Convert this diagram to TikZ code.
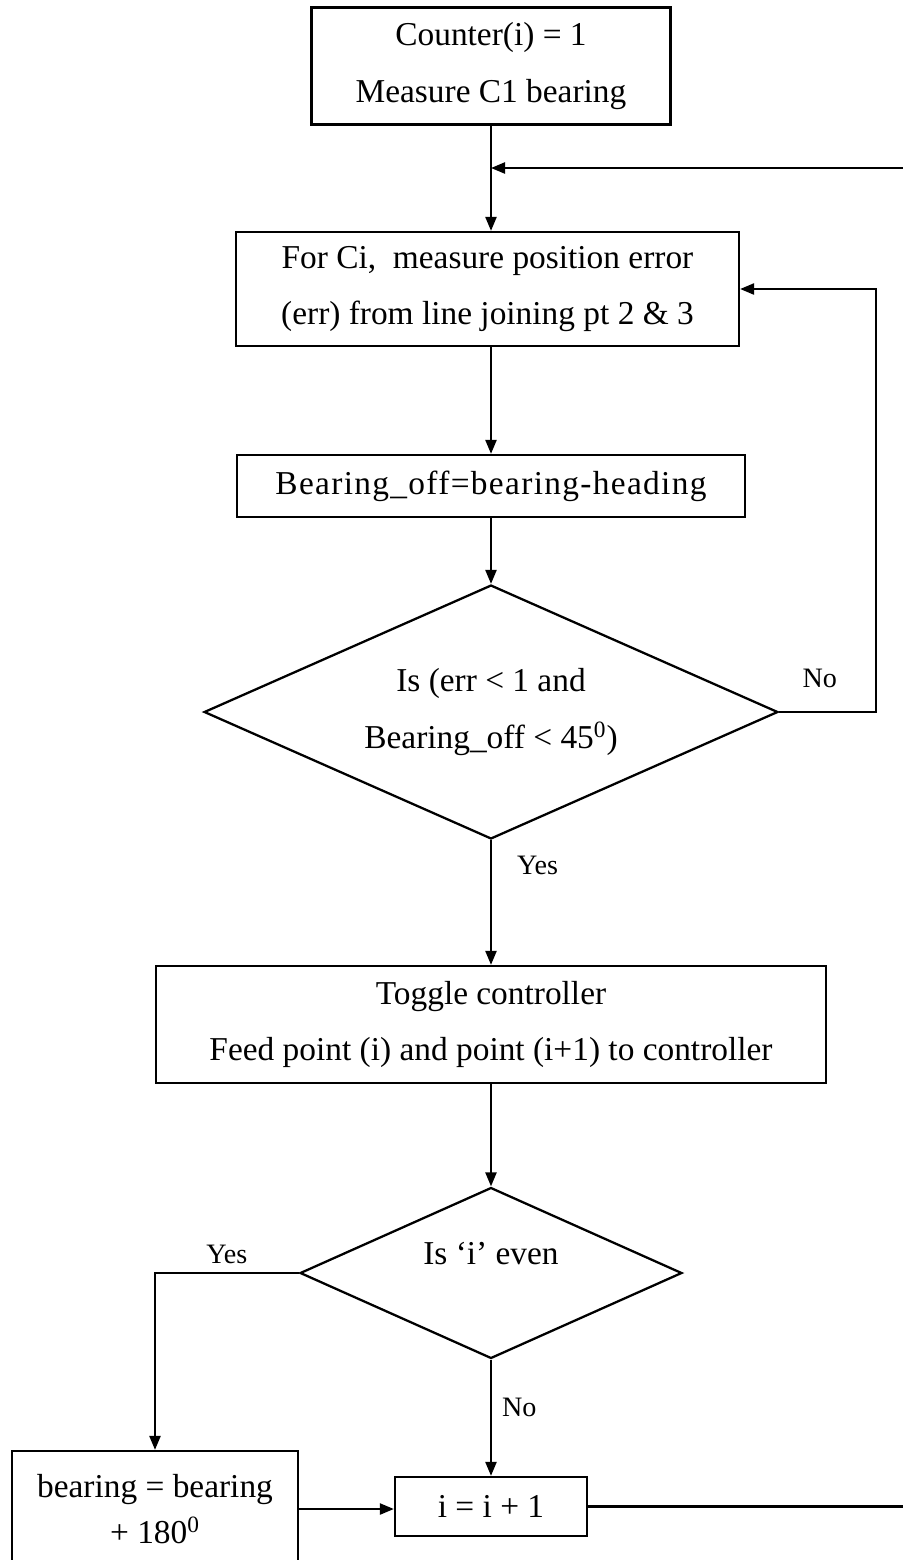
\documentclass[tikz,border=0pt]{standalone}
\usepackage{fontspec}
\setmainfont{Liberation Serif}
\usetikzlibrary{shapes.geometric,arrows.meta}

\begin{document}
\begin{tikzpicture}
[x=0.02cm,y=-0.02cm,line width=1.3pt,
>={Triangle[length=0.28cm,width=0.22cm]},
box/.style={shape=rectangle,draw,align=center,inner sep=0pt,
	font=\fontsize{19}{32}\selectfont},
test/.style={shape=diamond,draw,align=center,inner sep=0pt,aspect=2.25,
	font=\fontsize{19}{32}\selectfont},
tag/.style={inner sep=0pt,font=\fontsize{16}{18}\selectfont}]

\useasboundingbox (0,0) rectangle (903,1560);

\node[box,minimum width=7.18cm,minimum height=2.34cm] (start) at (491,66)
	{Counter(i) = 1\\Measure C1 bearing};
\node[box,minimum width=10.06cm,minimum height=2.28cm] (measure) at (487.5,289)
	{For Ci,~ measure position error\\(err) from line joining pt 2 \& 3};
\node[box,minimum width=10.16cm,minimum height=1.24cm] (offset) at (491,486)
	{\addfontfeature{LetterSpace=4}Bearing\_off=bearing-heading};
\node[test,minimum width=11.48cm,minimum height=5.08cm] (check) at (491,712)
	{Is (err < 1 and\\Bearing\_off < 45\textsuperscript{0})};
\node[box,minimum width=13.4cm,minimum height=2.34cm] (toggle) at (491,1024.5)
	{Toggle controller\\Feed point (i) and point (i+1) to controller};
\node[test,minimum width=7.64cm,minimum height=3.42cm,text depth=0.77cm] (even) at (491,1273)
	{Is ‘i’ even};
\node[box,minimum width=5.72cm,minimum height=2.32cm,font=\fontsize{19}{26}\selectfont] (flip) at (155,1509)
	{bearing = bearing\\+ 180\textsuperscript{0}};
\node[box,minimum width=3.84cm,minimum height=1.18cm] (next) at (491,1506.5)
	{i = i + 1};

\coordinate (loopin) at (903,168);
\coordinate (loopout) at (903,1506.5);
\coordinate (noturn) at (876,712);

\draw[->] (start.south) -- (start.south |- measure.north);
\draw[->] (loopin) -- (loopin -| start.south);
\draw[->] (offset.north |- measure.south) -- (offset.north);
\draw[->] (offset.south) -- (check.north);
\draw[->] (check.east) -- node[tag,pos=0.42,above=0.47cm] {No} (noturn) |- (measure.east);
\draw[->] (check.south) -- node[tag,pos=0.2,right=0.5cm] {Yes} (toggle.north);
\draw[->] (toggle.south) -- (even.north);
\draw[->] (even.west) -| node[tag,pos=0.25,above=0.155cm] {Yes} (flip.north);
\draw[->] (even.south) -- node[tag,pos=0.41,right=0.2cm] {No} (next.north);
\draw[->] (flip.east) -- (flip.east -| next.west);
\draw (next.east) -- (loopout);
\end{tikzpicture}
\end{document}
